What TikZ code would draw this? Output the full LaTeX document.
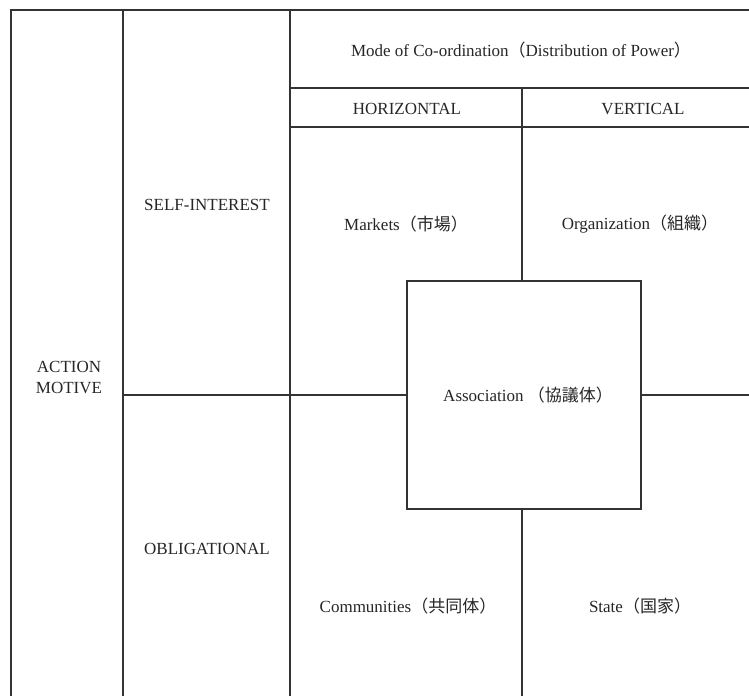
\documentclass[tikz,border=0pt]{standalone}
\usepackage{fontspec}
\setmainfont{Liberation Serif}
\newfontfamily\cjk{Noto Sans CJK JP}
\begin{document}
\begin{tikzpicture}[x=1pt,y=-1pt,
  rule/.style={draw=black!80, line width=1.8pt},
  lbl/.style={font=\fontsize{17}{21}\selectfont, inner sep=0pt, align=center, text=black!85}]
\useasboundingbox (0,0) rectangle (749,696);
% outer frame and column rules
\draw[rule] (10,10) -- (749,10);
\draw[rule] (11,10) -- (11,696);
\draw[rule] (123,10) -- (123,696);
\draw[rule] (290,10) -- (290,696);
% header rows
\draw[rule] (290,88) -- (749,88);
\draw[rule] (290,127) -- (749,127);
% central box
\node[rule, minimum width=234pt, minimum height=228pt, inner sep=0pt] (assoc) at (524,395) {};
\coordinate (vtop) at (522,88);
\coordinate (vbot) at (522,696);
\coordinate (hleft) at (123,395);
\coordinate (hright) at (749,395);
\draw[rule] (vtop) -- (vtop |- assoc.north);
\draw[rule] (vbot) -- (vbot |- assoc.south);
\draw[rule] (hleft) -- (assoc.west |- hleft);
\draw[rule] (hright) -- (assoc.east |- hright);
% labels
\node[lbl] (mode) at (521,50) {Mode of Co-ordination{\cjk （}Distribution of Power{\cjk ）}};
\node[lbl] (horiz) at (407,109) {HORIZONTAL};
\node[lbl] (vert) at (643,109) {VERTICAL};
\node[lbl] (self) at (207,205) {SELF-INTEREST};
\node[lbl] (oblig) at (207,549) {OBLIGATIONAL};
\node[lbl] (action) at (69,377) {ACTION\\MOTIVE};
\node[lbl] (markets) at (406,224) {Markets{\cjk （市場）}};
\node[lbl] (org) at (640,224) {Organization{\cjk （組織）}};
\node[lbl] at (assoc.center) [xshift=4pt] {Association {\cjk （協議体）}};
\node[lbl] (comm) at (408,606) {Communities{\cjk （共同体）}};
\node[lbl] (state) at (640,606) {State{\cjk （国家）}};
\end{tikzpicture}
\end{document}
